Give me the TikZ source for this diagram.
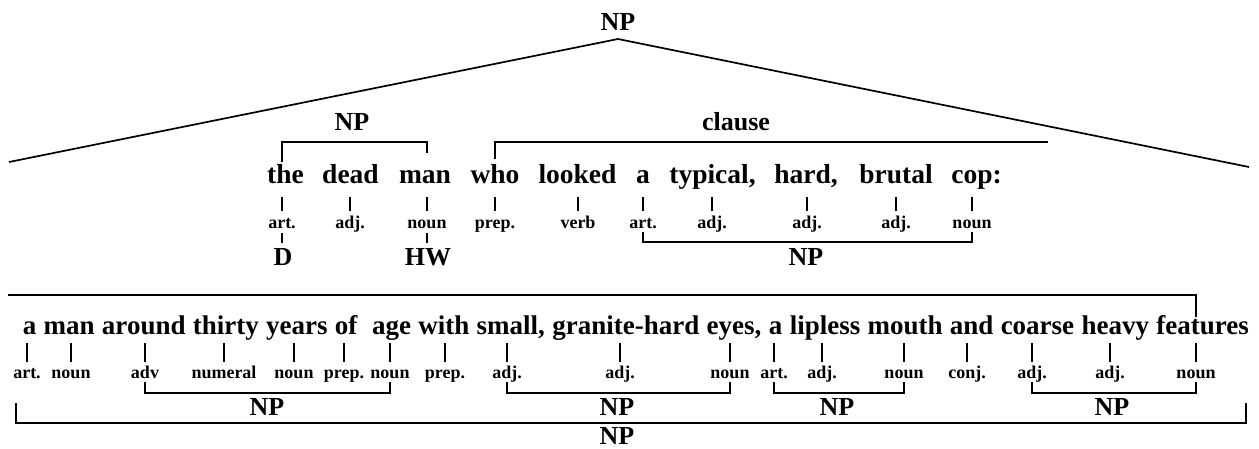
\documentclass[tikz,border=0pt]{standalone}
\usepackage{fontspec}
\setmainfont{Liberation Serif}
\begin{document}
\begin{tikzpicture}[x=1pt,y=-1pt,
  line width=1.7pt, line cap=butt,
  word/.style={font=\fontsize{27.5}{31}\selectfont\bfseries, anchor=base, inner sep=0pt},
  sentence/.style={font=\fontsize{27}{31}\selectfont\bfseries, anchor=base west, inner sep=0pt},
  wclass/.style={font=\fontsize{18}{20}\selectfont\bfseries, anchor=base, inner sep=0pt},
  cat/.style={font=\fontsize{26}{28}\selectfont\bfseries, anchor=base, inner sep=0pt}]
\useasboundingbox (0,0) rectangle (1259,448);

% ---------- top: the whole noun phrase ----------
\node[cat] (npTop) at (618,30) {NP};
\coordinate (apex) at (618,39);
\coordinate (triL) at (9,162);
\coordinate (triR) at (1249,167);
\draw (triL) -- (apex) -- (triR);

% ---------- first line of words ----------
\node[word] (wThe)     at (285.5,183) {the};
\node[word] (wDead)    at (350.5,183) {dead};
\node[word] (wMan)     at (425,183)   {man};
\node[word] (wWho)     at (495,183)   {who};
\node[word] (wLooked)  at (577.5,183) {looked};
\node[word] (wA)       at (643,183)   {a};
\node[word] (wTypical) at (712.5,183) {typical,};
\node[word] (wHard)    at (806,183)   {hard,};
\node[word] (wBrutal)  at (896,183)   {brutal};
\node[word] (wCop)     at (976.5,183) {cop:};

% word classes, first line
\node[wclass] (pThe)     at (282,228) {art.};
\node[wclass] (pDead)    at (350,228) {adj.};
\node[wclass] (pMan)     at (427,228) {noun};
\node[wclass] (pWho)     at (495,228) {prep.};
\node[wclass] (pLooked)  at (578,228) {verb};
\node[wclass] (pA)       at (643,228) {art.};
\node[wclass] (pTypical) at (712,228) {adj.};
\node[wclass] (pHard)    at (807,228) {adj.};
\node[wclass] (pBrutal)  at (896,228) {adj.};
\node[wclass] (pCop)     at (972,228) {noun};

\foreach \n in {pThe,pDead,pMan,pWho,pLooked,pA,pTypical,pHard,pBrutal,pCop}
  \draw ([yshift=17pt]\n.base) -- ([yshift=31pt]\n.base);

% NP "the dead man" with determiner and head word
\node[cat] (npThe) at (352,130) {NP};
\draw ([yshift=66pt]pThe.base) -- ([yshift=86pt]pThe.base)
      -- ([yshift=86pt]pMan.base) -- ([yshift=75pt]pMan.base);
\node[cat] (dThe) at (283,265) {D};
\node[cat] (hwMan) at (428,265) {HW};
\draw ([yshift=-5pt]pThe.base) -- ([yshift=-15pt]pThe.base);
\draw ([yshift=-5pt]pMan.base) -- ([yshift=-15pt]pMan.base);

% relative clause
\node[cat] (clause) at (736,130) {clause};
\coordinate (clauseEnd) at (1048,142);
\draw ([yshift=69pt]pWho.base) -- ([yshift=86pt]pWho.base) -- (clauseEnd);

% NP "a typical, hard, brutal cop"
\draw ([yshift=-4pt]pA.base) -- ([yshift=-14pt]pA.base)
      -- ([yshift=-14pt]pCop.base) -- ([yshift=-4pt]pCop.base);
\node[cat] (npCop) at (806,265) {NP};

% ---------- second line: the apposition, set as running text ----------
\node[sentence] (line2) at (22,334)
  {\makebox[1226pt][s]{a man around thirty years of\ \ age with small, granite-hard
   eyes, a lipless mouth and coarse heavy features}};

% word classes, second line
\node[wclass] (qA)        at (27,378)   {art.};
\node[wclass] (qMan)      at (71,378)   {noun};
\node[wclass] (qAround)   at (145,378)  {adv};
\node[wclass] (qThirty)   at (224,378)  {numeral};
\node[wclass] (qYears)    at (294,378)  {noun};
\node[wclass] (qOf)       at (344,378)  {prep.};
\node[wclass] (qAge)      at (390,378)  {noun};
\node[wclass] (qWith)     at (445,378)  {prep.};
\node[wclass] (qSmall)    at (507,378)  {adj.};
\node[wclass] (qGranite)  at (620,378)  {adj.};
\node[wclass] (qEyes)     at (730,378)  {noun};
\node[wclass] (qA2)       at (774,378)  {art.};
\node[wclass] (qLipless)  at (822,378)  {adj.};
\node[wclass] (qMouth)    at (904,378)  {noun};
\node[wclass] (qAnd)      at (967,378)  {conj.};
\node[wclass] (qCoarse)   at (1032,378) {adj.};
\node[wclass] (qHeavy)    at (1110,378) {adj.};
\node[wclass] (qFeatures) at (1196,378) {noun};

\foreach \n in {qA,qMan,qAround,qThirty,qYears,qOf,qAge,qWith,qSmall,qGranite,
                qEyes,qA2,qLipless,qMouth,qAnd,qCoarse,qHeavy,qFeatures}
  \draw ([yshift=16pt]\n.base) -- ([yshift=35pt]\n.base);

% line joining the apposition to the clause above
\coordinate (longL) at (8,295);
\draw (longL) -- ([yshift=83pt]qFeatures.base) -- ([yshift=61pt]qFeatures.base);

% the four embedded noun phrases
\draw ([yshift=-4pt]qAround.base) -- ([yshift=-15pt]qAround.base)
      -- ([yshift=-15pt]qAge.base) -- ([yshift=-4pt]qAge.base);
\node[cat] (np1) at (267,415) {NP};
\draw ([yshift=-4pt]qSmall.base) -- ([yshift=-15pt]qSmall.base)
      -- ([yshift=-15pt]qEyes.base) -- ([yshift=-4pt]qEyes.base);
\node[cat] (np2) at (617,415) {NP};
\draw ([yshift=-4pt]qA2.base) -- ([yshift=-15pt]qA2.base)
      -- ([yshift=-15pt]qMouth.base) -- ([yshift=-4pt]qMouth.base);
\node[cat] (np3) at (837,415) {NP};
\draw ([yshift=-4pt]qCoarse.base) -- ([yshift=-15pt]qCoarse.base)
      -- ([yshift=-15pt]qFeatures.base) -- ([yshift=-4pt]qFeatures.base);
\node[cat] (np4) at (1112,415) {NP};

% the whole second line as one noun phrase
\coordinate (bigL) at (16,403);
\coordinate (bigR) at (1246,403);
\draw (bigL) -- ++(0,20) -| (bigR);
\node[cat] (npAll) at (617,444) {NP};
\end{tikzpicture}
\end{document}
